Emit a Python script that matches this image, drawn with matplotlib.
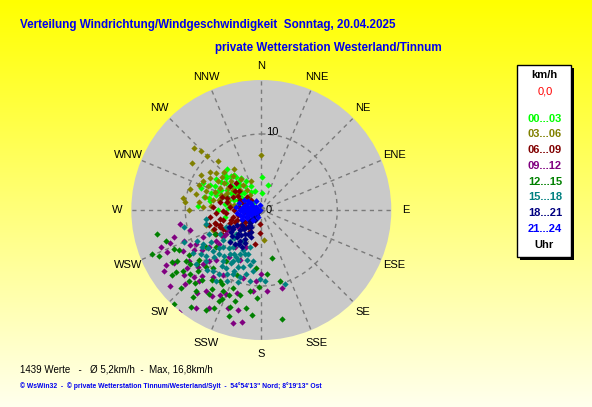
import numpy as np
import matplotlib
matplotlib.use("Agg")
import matplotlib.pyplot as plt
from matplotlib.patches import Rectangle

plt.rcParams['font.family'] = ['Liberation Sans', 'DejaVu Sans']

# wind direction (deg, from where it blows) and speed (km/h) per time slot
h00_03 = [(315, 6.9), (321.5, 5.8), (323, 5.5), (0.5, 4.4), (14, 3.4), (1, 2.2), (333, 4.3), (319, 4.3),
          (307, 5.8), (297, 6.9), (295, 8.5), (290, 8.5), (274, 8.3), (288.5, 7.0), (297, 5.9), (299, 4.5),
          (283, 7.1), (288, 6.3), (280, 4.9), (293.5, 3.3), (312, 2.3), (310, 3.4), (310, 5.2), (270, 5.7),
          (273, 4.4), (310, 1.4), (276, 2.2), (283, 7.7), (341, 2.6), (337.5, 3.4), (259.6, 4.9),
          (287.7, 4.4), (302, 4.2), (315.4, 4.4), (328, 5.0), (314, 6.4),
          (300, 5.2), (305, 6.4), (318, 6.0), (326, 3.8), (292, 5.0), (286, 5.5), (280, 6.8), (296, 7.5),
          (302, 3.0), (316, 3.2), (322, 4.8), (308, 4.6), (298, 2.6), (290, 3.8), (304, 7.2), (312, 6.2),
          (285, 3.0), (330, 2.8), (320, 7.0), (294, 6.2)]
h03_06 = [(312.6, 12.1), (314, 11.1), (315, 10.1), (304.5, 11.0), (359.6, 7.2), (326.4, 6.5), (302, 7.9),
          (303.4, 6.9), (286, 9.8), (278.6, 10.4), (276, 10.1), (270, 9.5), (277.7, 8.3), (293.8, 7.7),
          (291.6, 6.6), (290.7, 5.7), (287, 4.6), (290, 5.2), (283, 7.6), (274, 6.6), (313.7, 5.5), (303, 5.3),
          (313, 3.9), (301, 3.8), (324, 4.1), (324, 3.3), (284, 5.7), (281, 3.6), (282, 6.5), (309, 7.7),
          (327, 4.8), (306, 6.0), (288.5, 7.7), (273, 7.7), (341, 4.0), (279, 4.2), (323, 2.5), (175, 3.9),
          (254.6, 7.5), (247.4, 6.9),
          (296, 8.6), (300, 9.2), (306, 8.4), (310, 6.8), (316, 7.0), (320, 5.8), (298, 6.2), (292, 8.8),
          (284, 8.9), (296, 5.0), (318, 8.6), (305, 4.6)]
h06_09 = [(295, 3.1), (295.5, 4.1), (276, 4.2), (264.5, 4.6), (255, 5.2), (253, 6.2), (248, 6.7), (248, 5.9),
          (247, 4.5), (248, 3.5), (256.6, 3.8), (257.7, 3.1), (290, 2.6), (305, 4.3), (317, 4.8), (307, 5.2),
          (289, 5.4), (281, 5.6), (186, 1.8), (183, 3.0), (190.5, 4.6), (209.5, 3.1), (221, 3.0), (233, 3.3),
          (240, 5.3), (312, 2.6), (316, 1.9), (247, 1.2), (266, 6.0), (253.7, 7.1), (236.7, 6.1), (234.5, 2.7),
          (254, 6.4), (250, 5.8), (242.4, 6.7), (239.5, 6.1),
          (262, 2.3), (270, 3.6), (278, 2.9), (284, 4.6), (252, 4.2), (244, 5.6), (258, 5.5), (300, 3.6),
          (310, 3.9), (268, 5.1), (274, 6.4), (246, 3.8), (238, 4.6), (262, 6.8), (290, 4.8)]
h09_12 = [(260, 10.8), (253, 12.0), (250, 14.1), (246, 13.6), (238.6, 13.5), (238, 15.1), (254, 9.7),
          (242.7, 9.7), (219, 17.2), (213.8, 15.5), (194, 15.3), (189.6, 14.9), (193, 13.5), (198.8, 13.6),
          (165, 10.6), (180, 8.4), (184, 9.4), (206, 12.4), (215.8, 10.9), (227.4, 10.5), (239, 10.3),
          (235, 11.6), (214, 12.9), (221, 12.4), (221.8, 8.9), (211, 9.9), (195, 9.2), (185.7, 10.7),
          (176, 10.7), (225.8, 9.6), (245, 8.5), (231, 7.1), (236, 5.6), (215.7, 6.0), (203, 7.2), (214, 7.5),
          (201.8, 5.3), (230, 13.2), (225, 12.5), (234, 3.8), (237.5, 5.0), (235, 6.2), (236, 7.2), (234.5, 8.4),
          (228, 11.2), (232, 12.4), (242, 11.6), (248, 11.0), (240, 14.4), (226, 14.0), (218, 13.8),
          (210, 13.0), (244, 10.4), (236, 9.4), (250, 12.8), (222, 11.6), (203, 12.0), (196, 11.4),
          (230, 15.6), (208, 14.6)]
h12_15 = [(257, 14.1), (248, 15.5), (246, 14.8), (234, 14.5), (223, 16.9), (226, 14.7), (232, 13.1),
          (233, 11.7), (236, 12.0), (244, 12.1), (226, 11.6), (220, 12.1), (209, 15.0), (206, 14.3),
          (212, 13.0), (205, 13.2), (197, 14.6), (196, 12.5), (194, 11.5), (189, 13.0), (185, 13.8),
          (188, 10.8), (183, 11.6), (182, 10.2), (175, 8.5), (167.5, 6.4), (165, 9.7), (169, 14.6), (185, 7.6),
          (200.6, 11.9), (210.6, 10.8), (220, 9.9), (231, 10.5), (236, 8.8), (230.6, 7.7), (214.7, 8.1),
          (201, 9.1), (200, 10.9), (205, 11.8), (219, 13.7), (225.5, 13.3), (239, 12.9), (243, 6.9),
          (215, 11.2), (222, 13.0), (228, 12.6), (234, 13.8), (240, 13.6), (212, 12.2), (218, 14.6),
          (204, 12.8), (230, 11.0), (238, 11.2), (246, 12.6), (208, 11.0), (224, 10.4), (198, 13.4),
          (252, 13.2), (216, 15.8)]
h15_18 = [(256, 7.5), (247.5, 11.0), (237.7, 9.2), (245.6, 7.5), (223.6, 8.0), (211.5, 8.9), (209, 7.6),
          (206, 6.4), (196, 6.9), (196.7, 6.0), (187.6, 8.1), (193, 8.7), (197.7, 9.3), (203.8, 9.2),
          (206, 10.4), (213, 10.1), (218.7, 10.2), (227.5, 9.9), (234, 9.8), (230, 8.3), (226, 7.0), (226, 5.8),
          (240.6, 6.3), (226.6, 4.5), (211, 4.7), (216, 7.1), (202, 8.1), (189, 6.8), (181, 9.1), (177, 9.3),
          (162.4, 10.2), (257.7, 10.4), (261, 7.4), (230.5, 11.2), (212.5, 11.1), (217, 8.4), (208, 7.0),
          (197.6, 7.9), (189, 9.5), (237.5, 7.9), (244, 5.1), (217, 6.1), (204, 5.8), (197, 5.1),
          (200, 6.2), (205, 7.3), (210, 8.1), (215, 9.0), (220, 6.6), (225, 8.8), (230, 9.5), (235, 8.6),
          (240, 8.9), (222, 10.6), (208, 9.6), (198, 10.0), (214, 5.4), (232, 6.4), (219, 7.8), (228, 7.4),
          (204, 8.8), (192, 7.4), (238, 10.6), (244, 9.4), (212, 6.8), (224, 5.2)]
h18_21 = [(207, 5.5), (207, 4.8), (215, 4.9), (222.8, 4.8), (209, 3.6), (210, 2.6), (212, 1.6), (220, 2.3),
          (227, 3.3), (245.5, 2.1), (223, 0.9), (239, 4.3), (227, 3.9), (200, 3.8), (224.7, 5.9), (218, 5.7),
          (240, 0.5), (230, 1.4), (218, 2.8), (215, 3.8), (224.6, 4.4), (243, 2.9),
          (232, 3.2), (236, 4.5), (228, 5.2), (219, 4.2), (213, 5.3), (238, 3.7), (231, 2.0), (226, 1.8),
          (234, 5.0), (222, 3.4), (216, 2.5), (242, 4.8), (210, 4.4), (205, 3.2)]
h21_24 = [(260, 0.2), (305, 0.8), (282, 1.1), (260, 1.3), (286, 1.6), (270, 2.0), (249, 1.9), (242, 0.95),
          (305, 1.6), (281.5, 2.2), (265, 2.4), (330, 1.3), (275, 2.6), (287, 3.0), (240, 2.2), (204, 1.0),
          (219, 1.7), (278, 3.3), (303, 2.1), (345, 0.7),
          (250, 0.6), (255, 1.0), (262, 1.5), (268, 1.2), (272, 0.8), (278, 1.8), (284, 2.4), (292, 2.0),
          (296, 1.2), (300, 2.6), (252, 2.6), (246, 1.5), (258, 2.9), (264, 3.2), (270, 2.8), (276, 0.5),
          (288, 0.9), (244, 2.8), (256, 2.0), (266, 1.8)]

slots = [h00_03, h03_06, h06_09, h09_12, h12_15, h15_18, h18_21, h21_24]
slot_labels = ['00...03', '03...06', '06...09', '09...12', '12...15', '15...18', '18...21', '21...24']
slot_colors = ['#00FF00', '#808000', '#800000', '#800080', '#008000', '#008080', '#000080', '#0000FF']

compass = ['N', 'NNE', 'NE', 'ENE', 'E', 'ESE', 'SE', 'SSE',
           'S', 'SSW', 'SW', 'WSW', 'W', 'WNW', 'NW', 'NNW']

n_values = 1439
mean_speed = 5.2
max_speed = 16.8
r_max = 17.1

W, H = 592, 407
fig = plt.figure(figsize=(W / 100, H / 100), dpi=100)

# yellow background gradient
bg = fig.add_axes([0, 0, 1, 1])
grad = np.linspace(0, 1, 256)[:, None]
top = np.array([1.0, 1.0, 0.0])
bottom = np.array([1.0, 1.0, 0.93])
img = top[None, None, :] * (1 - grad[..., None]) + bottom[None, None, :] * grad[..., None]
bg.imshow(img, aspect='auto', extent=[0, 1, 0, 1])
bg.set_xlim(0, 1)
bg.set_ylim(0, 1)
bg.axis('off')

def fx(px):
    return px / W

def fy(py):
    return 1 - py / H

# polar axes: center (261, 210) px, radius 130 px
cx, cy, rad = 261.3, 210, 130
ax = fig.add_axes([fx(cx - rad), fy(cy + rad), 2 * rad / W, 2 * rad / H], projection='polar')
ax.set_theta_zero_location('N')
ax.set_theta_direction(-1)
ax.set_facecolor('#C9C9C9')
ax.set_ylim(0, r_max)
ax.set_xticks(np.deg2rad(np.arange(0, 360, 22.5)))
ax.set_xticklabels([])
ax.set_yticks([10])
ax.set_yticklabels([])
ax.grid(True, color='#7A7A7A', linestyle=(0, (3, 3)), linewidth=1)
ax.spines['polar'].set_visible(False)

for pts, col in zip(slots, slot_colors):
    d = np.array([p[0] for p in pts])
    s = np.array([p[1] for p in pts])
    ax.plot(np.deg2rad(d), s, 'D', color=col, markersize=3.2, markeredgewidth=0, zorder=3)

for i, name in enumerate(compass):
    ax.text(np.deg2rad(i * 22.5), r_max * 1.108, name, ha='center', va='center',
            fontsize=8, color='black', clip_on=False)
ax.text(np.deg2rad(7.7), 10.4, '10', ha='center', va='center', fontsize=8, color='black')
ax.text(np.deg2rad(90), 0.95, '0', ha='center', va='center', fontsize=8, color='black')

# titles
blue = '#0000EE'
fig.text(fx(20), fy(25), 'Verteilung Windrichtung/Windgeschwindigkeit  Sonntag, 20.04.2025',
         ha='left', va='center', fontsize=8.4, fontweight='bold', color=blue)
fig.text(fx(215), fy(48), 'private Wetterstation Westerland/Tinnum',
         ha='left', va='center', fontsize=8.4, fontweight='bold', color=blue)

# legend box with shadow
fig.patches.append(Rectangle((fx(520), fy(260)), (571 - 517) / W, (257 - 65) / H,
                             transform=fig.transFigure, facecolor='black', edgecolor='none'))
fig.patches.append(Rectangle((fx(517), fy(257)), (571 - 517) / W, (257 - 65) / H,
                             transform=fig.transFigure, facecolor='white', edgecolor='black', linewidth=1))
fig.text(fx(544), fy(75), 'km/h', ha='center', va='center', fontsize=8, fontweight='bold', color='black')
fig.text(fx(545), fy(91), '0,0', ha='center', va='center', fontsize=8, color='red')
for i, (lab, col) in enumerate(zip(slot_labels, slot_colors)):
    fig.text(fx(545), fy(118.7 + i * 15.75), lab, ha='center', va='center',
             fontsize=8, fontweight='bold', color=col)
fig.text(fx(544), fy(245), 'Uhr', ha='center', va='center', fontsize=8, fontweight='bold', color='black')

# bottom texts
summary = f'{n_values} Werte   -   Ø {mean_speed:.1f}km/h  -  Max. {max_speed:.1f}km/h'.replace('.', ',')
fig.text(fx(20), fy(369), summary, ha='left', va='center', fontsize=7, color='black')
fig.text(fx(20), fy(386), "© WsWin32  -  © private Wetterstation Tinnum/Westerland/Sylt  -  54°54'13'' Nord; 8°19'13'' Ost",
         ha='left', va='center', fontsize=4.9, fontweight='bold', color=blue)

fig.savefig('out.png', dpi=100)
